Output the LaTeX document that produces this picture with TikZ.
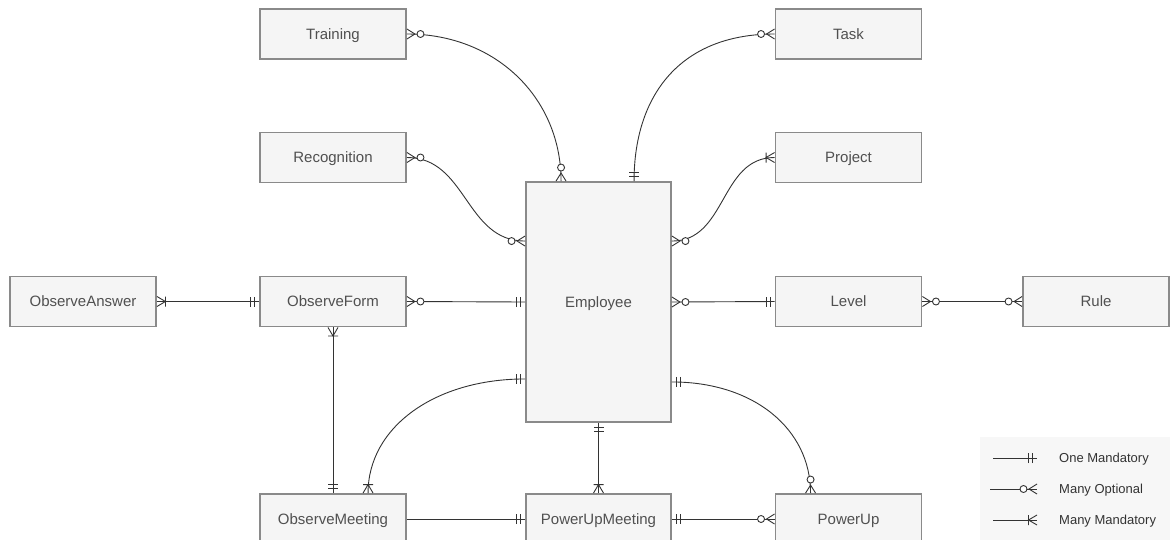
\documentclass[tikz,border=0pt]{standalone}
\usepackage{fontspec}
\setmainfont{Liberation Sans}
\usetikzlibrary{calc}

\definecolor{boxfill}{HTML}{F5F5F5}
\definecolor{boxline}{HTML}{8A8A8A}
\definecolor{boxtext}{HTML}{505050}
\definecolor{linkcol}{HTML}{333333}
\definecolor{legendbg}{HTML}{F7F7F7}

\tikzset{
  ent/.style={draw=boxline, line width=1.9pt, fill=boxfill, text=boxtext,
    minimum width=146pt, minimum height=50pt, inner sep=0pt,
    text height=12pt, text depth=1.2pt,
    font=\fontsize{15}{18}\selectfont},
  erline/.style={draw=linkcol, line width=0.9pt},
  legtext/.style={anchor=west, text=linkcol, inner sep=0pt,
    text height=10pt, text depth=1pt,
    font=\fontsize{13}{15}\selectfont},
  % crow's-foot end markers: origin on the box edge, +x pointing away from the box
  mone/.pic={\draw[erline] (4.5,-5) -- (4.5,5) (8.5,-5) -- (8.5,5);},
  mzero/.pic={\draw[erline] (0,-5) -- (8,0) -- (0,5);
              \draw[erline, fill=white] (13.5,0) circle (3.5);},
  mmany/.pic={\draw[erline] (0,-5) -- (8.5,0) -- (0,5) (8.5,-5) -- (8.5,5);},
}

\begin{document}
\begin{tikzpicture}[x=1pt, y=-1pt]
\useasboundingbox (0,0) rectangle (1170,539);

% legend panel
\fill[legendbg] (980,437) rectangle (1180,550);

% entities
\node[ent] (training) at (333,34)      {Training};
\node[ent] (recog)    at (333,157.5)   {Recognition};
\node[ent] (task)     at (848.5,34)    {Task};
\node[ent] (project)  at (848.5,157.5) {Project};
\node[ent, minimum width=145pt, minimum height=240pt] (emp) at (598.5,302) {Employee};
\node[ent] (oa)       at (83,301.5)    {ObserveAnswer};
\node[ent] (of)       at (333,301.5)   {ObserveForm};
\node[ent] (level)    at (848.5,301.5) {Level};
\node[ent] (rule)     at (1096,301.5)  {Rule};
\node[ent] (om)       at (333,519)     {ObserveMeeting};
\node[ent, minimum width=145pt] (pum) at (598.5,519) {PowerUpMeeting};
\node[ent] (pu)       at (848.5,519)   {PowerUp};

% attachment points on the entity borders
\coordinate (eT1) at ($(emp.north west)+(36,0)$);
\coordinate (eT2) at ($(emp.north west)+(109,0)$);
\coordinate (eL1) at ($(emp.north west)+(0,60)$);
\coordinate (eR1) at ($(emp.north east)+(0,60)$);
\coordinate (eL2) at ($(emp.south west)+(0,-44)$);
\coordinate (eR2) at ($(emp.south east)+(0,-41)$);
\coordinate (omTop) at ($(om.north west)+(109,0)$);
\coordinate (puTop) at ($(pu.north west)+(36,0)$);

% relationships
\draw[erline] (training.east) .. controls +(90,0) and +(0,-82) .. (eT1);
\draw[erline] (task.west) .. controls +(-95,0) and +(0,-85) .. (eT2);
\draw[erline] (recog.east) .. controls +(60,0) and +(-60,0) .. (eL1);
\draw[erline] (eR1) .. controls +(55,0) and +(-55,0) .. (project.west);
\draw[erline] (oa.east) -- (of.west);
\draw[erline] (of.east) -- (emp.west);
\draw[erline] (emp.east) -- (level.west);
\draw[erline] (level.east) -- (rule.west);
\draw[erline] (of.south) -- (om.north);
\draw[erline] (eL2) .. controls +(-90,0) and +(0,-66) .. (omTop);
\draw[erline] (emp.south) -- (pum.north);
\draw[erline] (om.east) -- (pum.west);
\draw[erline] (pum.east) -- (pu.west);
\draw[erline] (eR2) .. controls +(82,0) and +(0,-64) .. (puTop);

% relationship end markers
\pic at (training.east) {mzero};
\pic[rotate=90] at (eT1) {mzero};
\pic[rotate=180] at (task.west) {mzero};
\pic[rotate=90] at (eT2) {mone};
\pic at (recog.east) {mzero};
\pic[rotate=180] at (eL1) {mzero};
\pic at (eR1) {mzero};
\pic[rotate=180] at (project.west) {mmany};
\pic at (oa.east) {mmany};
\pic[rotate=180] at (of.west) {mone};
\pic at (of.east) {mzero};
\pic[rotate=180] at (emp.west) {mone};
\pic at (emp.east) {mzero};
\pic[rotate=180] at (level.west) {mone};
\pic at (level.east) {mzero};
\pic[rotate=180] at (rule.west) {mzero};
\pic[rotate=-90] at (of.south) {mmany};
\pic[rotate=90] at (om.north) {mone};
\pic[rotate=180] at (eL2) {mone};
\pic[rotate=90] at (omTop) {mmany};
\pic[rotate=-90] at (emp.south) {mone};
\pic[rotate=90] at (pum.north) {mmany};
\pic[rotate=180] at (pum.west) {mone};
\pic at (pum.east) {mone};
\pic[rotate=180] at (pu.west) {mzero};
\pic at (eR2) {mone};
\pic[rotate=90] at (puTop) {mzero};

% legend
\coordinate (l1a) at (993,458);  \coordinate (l1b) at (1037,458);
\coordinate (l2a) at (990,489);  \coordinate (l2b) at (1037,489);
\coordinate (l3a) at (993,520);  \coordinate (l3b) at (1037,520);
\draw[erline] (l1a) -- (l1b);
\draw[erline] (l2a) -- (l2b);
\draw[erline] (l3a) -- (l3b);
\pic[rotate=180] at (l1b) {mone};
\pic[rotate=180] at (l2b) {mzero};
\pic[rotate=180] at (l3b) {mmany};
\node[legtext] (t1) at (1059,458) {One Mandatory};
\node[legtext] (t2) at (1059,489) {Many Optional};
\node[legtext] (t3) at (1059,520) {Many Mandatory};
\end{tikzpicture}
\end{document}
